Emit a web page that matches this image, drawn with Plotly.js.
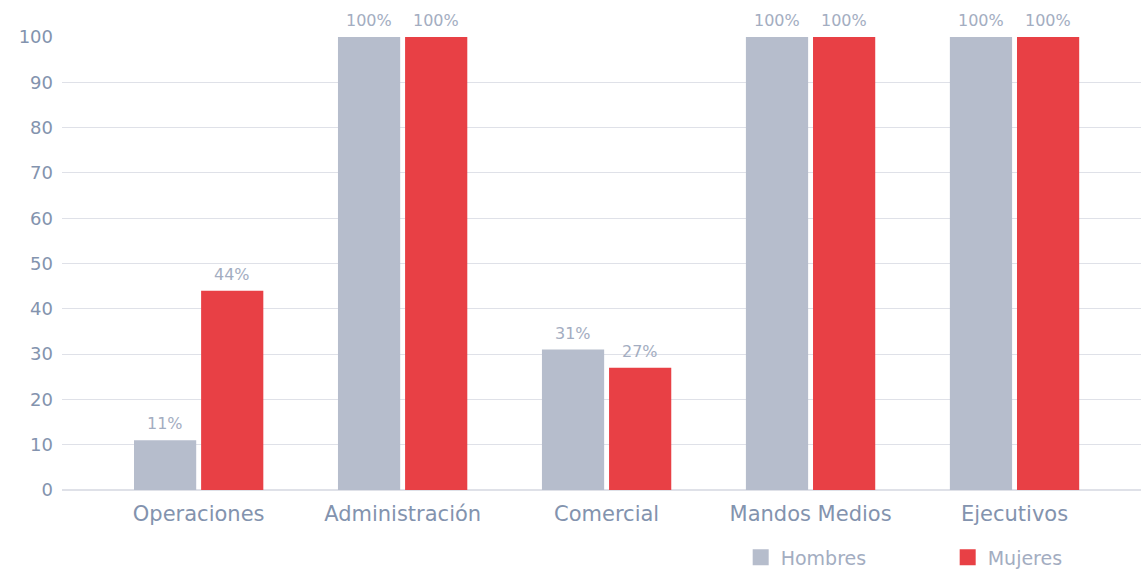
<!DOCTYPE html>
<html>
<head>
<meta charset="utf-8">
<script src="https://cdn.plot.ly/plotly-3.0.1.min.js"></script>
<style>html,body{margin:0;padding:0;background:#fff;}#chart{width:1141px;height:573px;}</style>
</head>
<body>
<div id="chart"></div>
<script>
const categories = ["Operaciones", "Administración", "Comercial", "Mandos Medios", "Ejecutivos"];
const hombres = [11, 100, 31, 100, 100];
const mujeres = [44, 100, 27, 100, 100];
const seriesNames = ["Hombres", "Mujeres"];
const colors = ["#b6bdcc", "#e84045"];
const yTicks = [0, 10, 20, 30, 40, 50, 60, 70, 80, 90, 100];

const FONT = "DejaVu Sans, sans-serif";
const TICK_COLOR = "#8393ae";
const LABEL_COLOR = "#a3adc1";
const idx = categories.map((c, i) => i);

const BAR_W = 0.305;
const OFFSETS = [-0.317, 0.012];

function barTrace(vals, name, color, offset) {
  return {
    type: "bar",
    x: idx,
    y: vals,
    name: name,
    marker: {color: color},
    width: BAR_W,
    offset: offset,
    showlegend: false,
    hoverinfo: "skip"
  };
}
function legendTrace(name, color) {
  return {
    type: "scatter", mode: "markers", x: [null], y: [null], name: name,
    marker: {symbol: "square", size: 18, color: color}, showlegend: true
  };
}

const data = [
  barTrace(hombres, seriesNames[0], colors[0], OFFSETS[0]),
  barTrace(mujeres, seriesNames[1], colors[1], OFFSETS[1]),
  legendTrace(seriesNames[0], colors[0]),
  legendTrace(seriesNames[1], colors[1])
];

const annotations = [];
[hombres, mujeres].forEach((vals, s) => {
  vals.forEach((v, i) => {
    annotations.push({
      x: i + OFFSETS[s] + BAR_W / 2, y: v, xref: "x", yref: "y",
      text: v + "%", showarrow: false, yanchor: "bottom", yshift: 5,
      font: {family: FONT, size: 16, color: LABEL_COLOR}
    });
  });
});

const layout = {
  width: 1141, height: 573,
  margin: {l: 62, r: 0, t: 37, b: 83, autoexpand: false},
  paper_bgcolor: "#fff", plot_bgcolor: "#fff",
  font: {family: FONT, color: TICK_COLOR},
  barmode: "overlay",
  annotations: annotations,
  xaxis: {
    range: [-0.67, 4.62],
    tickmode: "array", tickvals: idx, ticktext: categories,
    tickfont: {family: FONT, size: 21, color: TICK_COLOR},
    showgrid: false, zeroline: false, showline: false, ticks: "",
    ticklabelstandoff: 9,
    fixedrange: true
  },
  yaxis: {
    range: [0, 100],
    tickmode: "array", tickvals: yTicks,
    tickfont: {family: FONT, size: 18, color: TICK_COLOR},
    gridcolor: "#dfe1e8", gridwidth: 1,
    zeroline: true, zerolinecolor: "#dfe1e8", zerolinewidth: 2,
    showline: false, ticks: "", ticklabelstandoff: 8,
    fixedrange: true
  },
  legend: {
    orientation: "h", x: 0.629, xanchor: "left", y: -0.107, yanchor: "top",
    font: {family: FONT, size: 19, color: LABEL_COLOR},
    itemwidth: 30, traceorder: "normal",
    entrywidth: 162
  },
  showlegend: true
};

Plotly.newPlot("chart", data, layout, {displayModeBar: false, staticPlot: true});
</script>
</body>
</html>
